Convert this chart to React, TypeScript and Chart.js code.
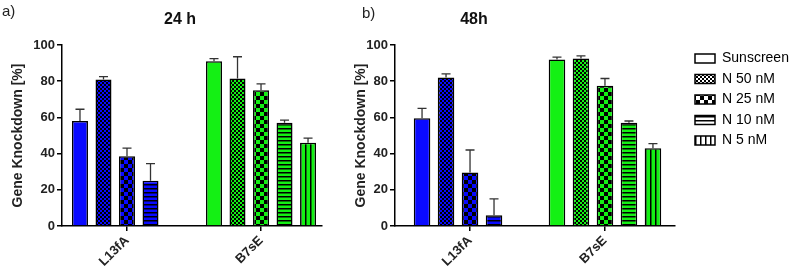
import React, { useEffect, useRef } from 'react';
import { Chart, registerables } from 'chart.js';

Chart.register(...registerables);

const FONT = 'Arial, "Liberation Sans", Helvetica, sans-serif';

const categories = ['L13fA', 'B7sE'];
const seriesNames = ['Sunscreen', 'N 50 nM', 'N 25 nM', 'N 10 nM', 'N 5 nM'];
const seriesPatterns = ['solid', 'fine', 'checker', 'hlines', 'vlines'];
const groupColors = ['#0a0aff', '#14f014'];
const yTicks = [0, 20, 40, 60, 80, 100];

// 24 h panel
const h24Sunscreen = [58, 91];
const h24N50 = [81, 81.5];
const h24N25 = [38.5, 75];
const h24N10 = [25, 57];
const h24N5 = [null, 46];
const h24SunscreenErr = [6.5, 1.5];
const h24N50Err = [1.5, 12];
const h24N25Err = [4.5, 3.5];
const h24N10Err = [9.5, 1.5];
const h24N5Err = [null, 2.5];

// 48 h panel
const h48Sunscreen = [59.5, 92];
const h48N50 = [82, 92.5];
const h48N25 = [29.5, 77.5];
const h48N10 = [6, 57];
const h48N5 = [null, 43];
const h48SunscreenErr = [5.5, 1.3];
const h48N50Err = [2, 1.5];
const h48N25Err = [12.5, 4];
const h48N10Err = [9, 1];
const h48N5Err = [null, 2.5];

function makeFill(kind: string, color: string): any {
  if (kind === 'solid') return color;
  const size = kind === 'fine' ? 4 : kind === 'checker' ? 8 : kind === 'hlines' ? 4 : 5;
  const c = document.createElement('canvas');
  c.width = size;
  c.height = size;
  const g = c.getContext('2d')!;
  g.fillStyle = color;
  g.fillRect(0, 0, size, size);
  g.fillStyle = '#000';
  if (kind === 'fine') {
    g.fillRect(0, 0, 2, 2);
    g.fillRect(2, 2, 2, 2);
  } else if (kind === 'checker') {
    g.fillRect(0, 0, 4, 4);
    g.fillRect(4, 4, 4, 4);
  } else if (kind === 'hlines') {
    g.fillRect(0, 0, size, 1.5);
  } else {
    g.fillRect(0, 0, 1.5, size);
  }
  return g.createPattern(c, 'repeat');
}

const errorBarPlugin = {
  id: 'errorBars',
  afterDatasetsDraw(chart: any) {
    const ctx = chart.ctx;
    const yS = chart.scales.y;
    ctx.save();
    ctx.strokeStyle = '#333';
    ctx.lineWidth = 1.3;
    chart.data.datasets.forEach((ds: any, di: number) => {
      const meta = chart.getDatasetMeta(di);
      meta.data.forEach((el: any, i: number) => {
        const v = ds.data[i].y;
        const e = ds.errors[i];
        if (v == null || e == null) return;
        const top = yS.getPixelForValue(v + e);
        ctx.beginPath();
        ctx.moveTo(el.x, el.y);
        ctx.lineTo(el.x, top);
        ctx.moveTo(el.x - 4.5, top);
        ctx.lineTo(el.x + 4.5, top);
        ctx.stroke();
      });
    });
    ctx.restore();
  },
};

const placementPlugin = {
  id: 'placement',
  afterLayout(chart: any, _args: any, opts: any) {
    const t = chart.titleBlock;
    if (t && opts.titleCenter != null) {
      const w = t.right - t.left;
      t.left = opts.titleCenter - w / 2;
      t.right = opts.titleCenter + w / 2;
    }
    const l = chart.legend;
    if (l && opts.legendLeft != null && chart.options.plugins.legend.display) {
      l.left = opts.legendLeft;
      l.right = chart.width;
      l.width = l.right - l.left;
    }
  },
};

type PanelProps = {
  title: string;
  values: (number | null)[][];
  errors: (number | null)[][];
  left: number;
  width: number;
  axisWidth: number;
  padRight: number;
  xMin: number;
  xMax: number;
  catPct: number;
  barPct: number;
  titleCenter: number;
  yTitlePad: number;
  showLegend: boolean;
  legendLeft?: number;
};

function Panel(p: PanelProps) {
  const ref = useRef<HTMLCanvasElement>(null);
  useEffect(() => {
    const canvas = ref.current!;
    const tickFont = { family: FONT, size: 13, weight: 'bold' as const };
    const chart = new Chart(canvas, {
      type: 'bar',
      data: {
        datasets: seriesNames.map((name, si) => ({
          label: name,
          data: categories.map((_c, ci) => ({ x: ci, y: p.values[si][ci] })),
          errors: p.errors[si],
          backgroundColor: categories.map((_c, ci) => makeFill(seriesPatterns[si], groupColors[ci])),
          borderColor: '#000',
          borderWidth: 1.5,
          categoryPercentage: p.catPct,
          barPercentage: p.barPct,
        })) as any,
      },
      options: {
        animation: false,
        responsive: false,
        layout: { padding: { right: p.padRight } },
        scales: {
          x: {
            type: 'linear',
            min: p.xMin,
            max: p.xMax,
            offset: false,
            ticks: {
              stepSize: 1,
              includeBounds: false,
              autoSkip: false,
              maxRotation: 45,
              minRotation: 45,
              padding: 2,
              color: '#222',
              font: tickFont,
              callback: (v: any) => categories[v] ?? '',
            },
            grid: { offset: false, drawOnChartArea: false, tickLength: 5, color: '#000', lineWidth: 1.5 },
            border: { display: true, color: '#000', width: 1.5 },
            afterFit: (s: any) => { s.height = 51; },
          } as any,
          y: {
            min: 0,
            max: 100,
            afterBuildTicks: (s: any) => { s.ticks = yTicks.map((v) => ({ value: v })); },
            ticks: { color: '#222', font: tickFont, padding: 2 },
            grid: { drawOnChartArea: false, tickLength: 5, color: '#000', lineWidth: 1.5 },
            border: { display: true, color: '#000', width: 1.5 },
            title: {
              display: true,
              text: 'Gene Knockdown [%]',
              color: '#222',
              font: { family: FONT, size: 14, weight: 'bold' },
              padding: { top: p.yTitlePad, bottom: 0 },
            },
            afterFit: (s: any) => { s.width = p.axisWidth; },
          } as any,
        },
        plugins: {
          tooltip: { enabled: false },
          title: {
            display: true,
            text: p.title,
            color: '#111',
            font: { family: FONT, size: 16, weight: 'bold' },
            padding: { top: 10, bottom: 15.8 },
          },
          legend: {
            display: p.showLegend,
            position: 'right',
            align: 'start',
            fullSize: false,
            maxWidth: 90,
            labels: {
              boxWidth: 20,
              boxHeight: 9,
              padding: 6.5,
              color: '#222',
              font: { family: FONT, size: 14 },
              generateLabels: () =>
                seriesNames.map((n, i) => ({
                  text: n,
                  fillStyle: makeFill(seriesPatterns[i], '#fff'),
                  strokeStyle: '#000',
                  lineWidth: 1.5,
                  hidden: false,
                  datasetIndex: i,
                })),
            },
          },
          placement: { titleCenter: p.titleCenter, legendLeft: p.legendLeft },
        } as any,
      },
      plugins: [errorBarPlugin, placementPlugin],
    });
    return () => chart.destroy();
  }, []);
  return (
    <canvas
      ref={ref}
      width={p.width}
      height={277}
      style={{ position: 'absolute', left: p.left, top: 0, width: p.width, height: 277 }}
    />
  );
}

export default function App() {
  const labelStyle: React.CSSProperties = {
    position: 'absolute',
    fontFamily: FONT,
    fontSize: 15,
    color: '#222',
    lineHeight: '17px',
  };
  return (
    <div style={{ position: 'absolute', left: 0, top: 0, width: 796, height: 277, background: '#fff', overflow: 'hidden' }}>
      <Panel
        title="24 h"
        values={[h24Sunscreen, h24N50, h24N25, h24N10, h24N5]}
        errors={[h24SunscreenErr, h24N50Err, h24N25Err, h24N10Err, h24N5Err]}
        left={0}
        width={330}
        axisWidth={62}
        padRight={8}
        xMin={-0.485}
        xMax={1.455}
        catPct={0.877}
        barPct={0.68}
        titleCenter={180}
        yTitlePad={9.6}
        showLegend={false}
      />
      <Panel
        title="48h"
        values={[h48Sunscreen, h48N50, h48N25, h48N10, h48N5]}
        errors={[h48SunscreenErr, h48N50Err, h48N25Err, h48N10Err, h48N5Err]}
        left={340}
        width={456}
        axisWidth={55}
        padRight={31}
        xMin={-0.556}
        xMax={1.519}
        catPct={0.889}
        barPct={0.69}
        titleCenter={134}
        yTitlePad={12.6}
        showLegend={true}
        legendLeft={348.5}
      />
      <span style={{ ...labelStyle, left: 2, top: 2 }}>a)</span>
      <span style={{ ...labelStyle, left: 362, top: 4 }}>b)</span>
    </div>
  );
}
